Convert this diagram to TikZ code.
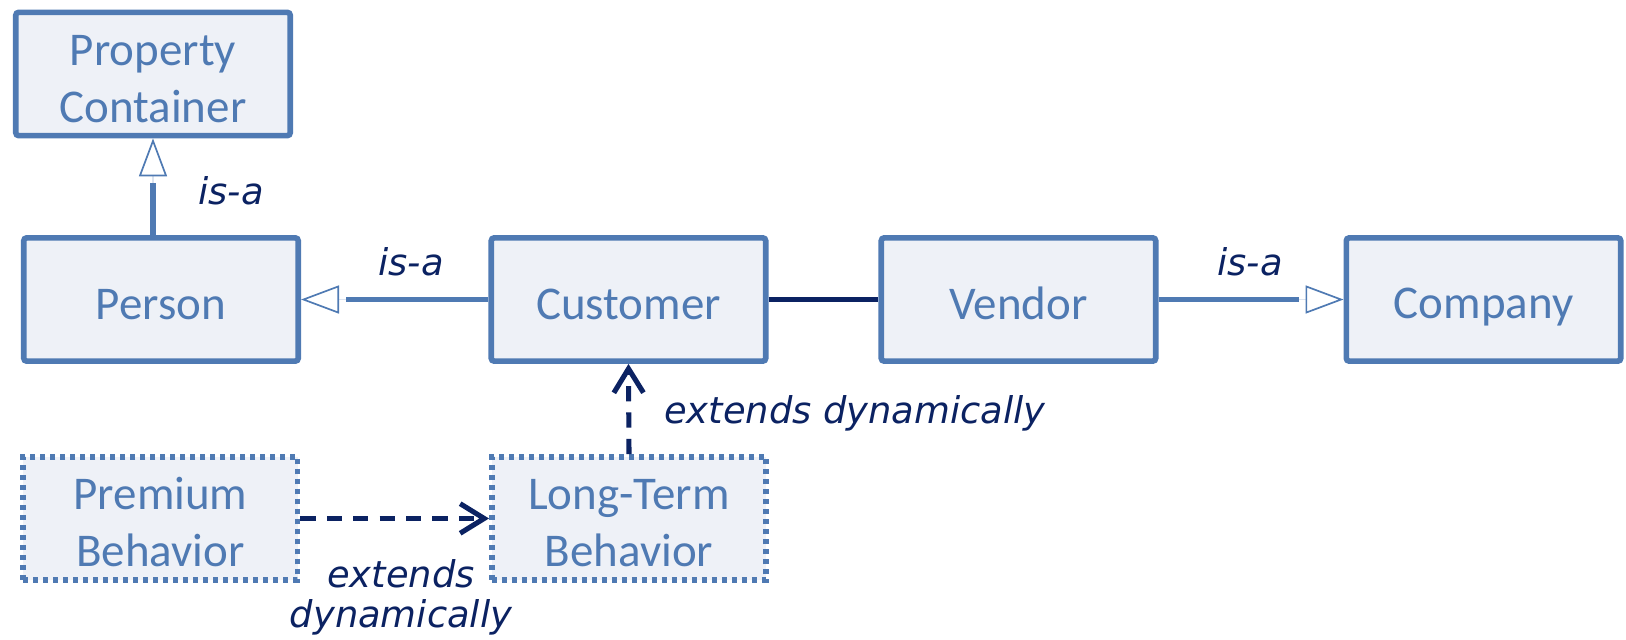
\documentclass[tikz,border=0pt]{standalone}
\usepackage{fontspec}
\setmainfont{Carlito}
\newfontfamily\lblfont{DejaVu Sans}
\usetikzlibrary{arrows.meta,positioning}
\definecolor{umlBlue}{HTML}{4F7AB3}
\definecolor{umlNavy}{HTML}{0B2262}
\definecolor{umlFill}{HTML}{EEF1F7}
\tikzset{
  cls/.style={draw=umlBlue, fill=umlFill, line width=2pt, rounded corners=1pt,
              minimum width=3.43cm, minimum height=1.54cm, align=center, text=umlBlue,
              font=\fontsize{16.7}{20.2}\selectfont, inner sep=2pt,
              execute at begin node={\rule{0pt}{#1}},
              execute at end node={\rule[-2pt]{0pt}{2pt}}},
  cls/.default=16pt,
  cls2/.style={cls=36.2pt},
  role/.style={cls2, dash pattern=on 0.0625cm off 0.0625cm, rounded corners=0pt},
  lbl/.style={font=\lblfont\itshape\fontsize{13.1}{14.2}\selectfont, text=umlNavy,
              align=center, inner sep=0pt},
  isa/.style={draw=umlBlue, line width=1.8pt, shorten >=0.56cm,
              preaction={draw=umlBlue!20, line width=0.6pt, shorten >=0pt,
                -{Triangle[open,length=0.475cm,width=0.35cm,line width=0.6pt,color=umlBlue,fill=white]}}},
  assoc/.style={draw=umlNavy, line width=1.5pt},
  ext/.style={draw=umlNavy, line width=1.8pt, dash pattern=on 0.19cm off 0.14cm,
              -{Straight Barb[length=0.3cm,width=0.37cm,line width=1.8pt]}},
}
\begin{document}
\begin{tikzpicture}
  \useasboundingbox (0,0) rectangle (20.325,8);
  % classes
  \node[cls2] (pc) at (1.9125,7.075) {Property\\Container};
  \node[cls] (pers) at (2.0125,4.256) {Person};
  \node[cls] (cust) at (7.856,4.256) {Customer};
  \node[cls] (vend) at (12.731,4.256) {Vendor};
  \node[cls] (comp) at (18.544,4.256) {Company};
  % dynamic roles
  \node[role] (prem) at (2.006,1.519) {Premium\\Behavior};
  \node[role] (long) at (7.8625,1.519) {Long-Term\\Behavior};
  % relations
  \draw[isa] (pc.south |- pers.north) -- (pc.south);
  \draw[isa] (cust.west) -- (pers.east);
  \draw[isa] (vend.east) -- (comp.west);
  \draw[assoc] (cust.east) -- (vend.west);
  \draw[ext] (long.north) -- (cust.south);
  \draw[ext] (prem.east) -- (long.west);
  % labels
  \node[lbl] (isa1) at (2.8875,5.6125) {is-a};
  \node[lbl] (isa2) at (5.1375,4.725) {is-a};
  \node[lbl] (isa3) at (15.625,4.725) {is-a};
  \node[lbl] (ext1) at (10.6875,2.8375) {extends dynamically};
  \node[lbl] (ext2) at (5.0125,0.5375) {extends\\dynamically};
\end{tikzpicture}
\end{document}
